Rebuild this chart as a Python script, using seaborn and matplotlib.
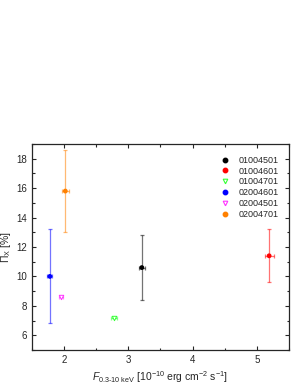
import numpy as np
import pandas as pd
import seaborn as sns
import matplotlib.pyplot as plt
from matplotlib.ticker import MultipleLocator

# Données
obs_ids = ["01004501", "01004601", "01004701", "02004601", "02004501", "02004701"]
flux = [3.21, 5.19, 2.78, 1.78, 1.95, 2.02]
flux_err = [0.05, 0.07, 0.05, 0.04, 0.03, 0.05]
pol = [10.6, 11.4, 7.2, 10.0, 8.6, 15.8]
pol_err_lo = [2.2, 1.8, 0.0, 3.2, 0.0, 2.8]
pol_err_hi = [2.2, 1.8, 0.0, 3.2, 0.0, 2.8]
couleurs = ["black", "red", "#33ff33", "blue", "#ff33ff", "#ff8000"]
marqueurs = ["o", "o", "v", "o", "v", "o"]

df = pd.DataFrame({"obs": obs_ids, "flux": flux, "pol": pol})

sns.set_style("ticks")
plt.rcParams["font.family"] = ["Liberation Sans", "DejaVu Sans"]
plt.rcParams["mathtext.fontset"] = "custom"
plt.rcParams["mathtext.rm"] = "Liberation Sans"
plt.rcParams["mathtext.it"] = "Liberation Sans:italic"

fig = plt.figure(figsize=(2.98, 3.85), dpi=100)
ax = fig.add_axes([0.107, 0.091, 0.863, 0.535])

for i in range(len(obs_ids)):
    ax.errorbar(flux[i], pol[i], xerr=flux_err[i],
                yerr=[[pol_err_lo[i]], [pol_err_hi[i]]],
                fmt="none", ecolor=couleurs[i], alpha=0.55,
                elinewidth=0.9, capsize=1.5, capthick=0.9, zorder=2)

# points pleins
pleins = df[[m == "o" for m in marqueurs]]
sns.scatterplot(data=pleins, x="flux", y="pol", hue="obs",
                palette=[c for c, m in zip(couleurs, marqueurs) if m == "o"],
                marker="o", s=12, linewidth=0, ax=ax, zorder=3, legend=False)

# triangles en creux
for i in range(len(obs_ids)):
    if marqueurs[i] == "v":
        ax.scatter(flux[i], pol[i], marker="v", s=10, facecolors="white",
                   edgecolors=couleurs[i], linewidths=0.7, zorder=4)

handles = []
for i in range(len(obs_ids)):
    if marqueurs[i] == "v":
        h = plt.Line2D([], [], ls="none", marker="v", ms=3.3, mfc="white",
                       mec=couleurs[i], mew=0.8, label=obs_ids[i])
    else:
        h = plt.Line2D([], [], ls="none", marker="o", ms=3.2, mfc=couleurs[i],
                       mec=couleurs[i], label=obs_ids[i])
    handles.append(h)
ax.legend(handles=handles, loc="upper right", frameon=False, fontsize=6.5,
          handletextpad=1.0, handlelength=1.0, labelspacing=0.2,
          borderaxespad=0.0, bbox_to_anchor=(0.975, 0.96))

ax.set_xlim(1.5, 5.5)
ax.set_ylim(5, 19)
ax.xaxis.set_major_locator(MultipleLocator(1))
ax.xaxis.set_minor_locator(MultipleLocator(0.5))
ax.yaxis.set_major_locator(MultipleLocator(2))
ax.yaxis.set_minor_locator(MultipleLocator(1))
ax.tick_params(which="both", direction="in", top=True, right=True,
               labelsize=7, width=0.8)
ax.tick_params(which="major", length=3)
ax.tick_params(which="minor", length=1.8)
for sp in ax.spines.values():
    sp.set_linewidth(0.9)

ax.set_xlabel(r"$\mathit{F}_{\mathrm{0.3\text{-}10\ keV}}$ [10$^{-10}$ erg cm$^{-2}$ s$^{-1}$]",
              fontsize=7.5, labelpad=3)
ax.set_ylabel(r"$\Pi_{\mathrm{X}}$ [%]", fontsize=7.5, labelpad=2)

fig.savefig("out.png", dpi=100)
